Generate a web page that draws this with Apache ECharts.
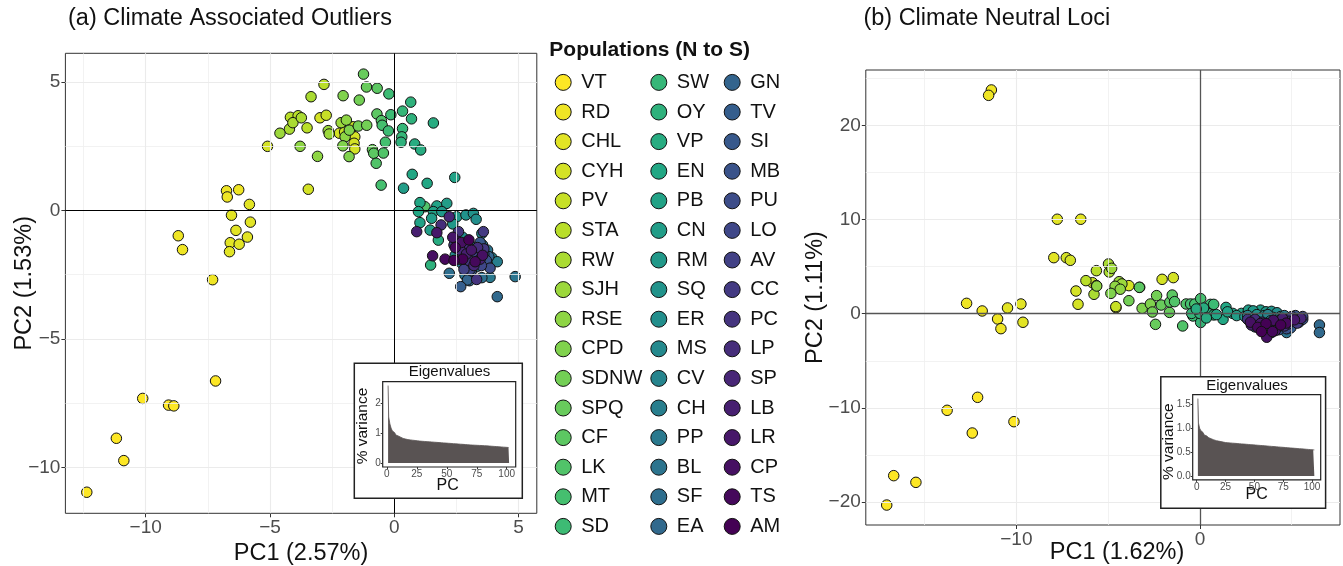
<!DOCTYPE html>
<html><head><meta charset="utf-8">
<script src="https://cdn.jsdelivr.net/npm/echarts@6/dist/echarts.min.js"></script>
<style>html,body{margin:0;padding:0;background:#fff}#c{width:1343px;height:566px}</style>
</head><body><div id="c"></div>
<script>
// ---------------- DATA ----------------
const populations = ["VT","RD","CHL","CYH","PV","STA","RW","SJH","RSE","CPD","SDNW","SPQ","CF","LK","MT","SD",
  "SW","OY","VP","EN","PB","CN","RM","SQ","ER","MS","CV","CH","PP","BL","SF","EA",
  "GN","TV","SI","MB","PU","LO","AV","CC","PC","LP","SP","LB","LR","CP","TS","AM"];

// (a) Climate Associated Outliers: [population, PC1, PC2]
const pointsA = [
 ["VT",-12.37,-10.97],["VT",-11.18,-8.87],["VT",-10.88,-9.74],["VT",-10.12,-7.32],["VT",-9.08,-7.58],["VT",-8.87,-7.61],["VT",-7.19,-6.64],
 ["RD",-7.31,-2.70],["RD",-8.69,-0.99],["RD",-8.52,-1.53],["RD",-6.75,0.76],["RD",-6.72,0.52],["RD",-6.26,0.80],
 ["CHL",-5.83,0.23],["CHL",-6.55,-0.19],["CHL",-5.79,-0.46],["CHL",-6.37,-0.78],["CHL",-6.60,-1.26],["CHL",-6.24,-1.32],["CHL",-5.91,-1.04],["CHL",-6.63,-1.61],
 ["CYH",-5.10,2.49],["CYH",-3.46,0.82],["CYH",-2.99,3.60],["CYH",-2.21,3.00],["CYH",-1.59,2.86],["CYH",-1.62,2.61],["CYH",-1.59,2.39],
 ["PV",-2.74,3.70],["PV",-1.66,3.25],["PV",-2.00,3.05],
 ["STA",-4.18,3.62],["STA",-3.51,3.21],["STA",-3.87,3.68],["STA",-2.83,4.90],
 ["RW",-4.22,3.16],["RW",-4.08,3.41],["RW",-3.74,3.60],["RW",-3.35,4.42],
 ["SJH",-4.60,3.00],["SJH",-2.66,3.10],["SJH",-2.62,2.97],["SJH",-2.14,3.41],
 ["RSE",-3.79,2.49],["RSE",-3.09,2.10],["RSE",-1.98,2.86],["RSE",-1.93,3.51],
 ["CPD",-2.06,4.46],["CPD",-1.81,3.12],["CPD",-2.07,2.51],["CPD",-1.82,2.09],
 ["SDNW",-1.45,3.28],["SDNW",-1.41,4.29],["SDNW",-1.11,3.31],
 ["SPQ",-1.24,5.30],["SPQ",-1.12,4.80],["SPQ",-0.88,2.36],
 ["CF",-0.69,4.75],["CF",-0.83,2.22],["CF",-0.70,3.75],
 ["LK",-0.52,3.49],["LK",-0.73,1.83],["LK",-0.44,2.23],["LK",1.23,0.14],
 ["MT",-0.36,2.65],["MT",-0.53,0.98],["MT",-0.49,3.31],
 ["SD",-0.22,4.53],["SD",-0.14,3.72],["SD",-0.24,3.09],
 ["SW",0.33,3.86],["SW",0.33,3.18],["SW",0.30,2.86],
 ["OY",0.66,4.21],["OY",0.69,3.56],["OY",0.27,2.65],["OY",1.46,-2.13],
 ["VP",1.57,3.40],["VP",0.82,2.58],["VP",1.06,2.35],["VP",1.77,-1.16],
 ["EN",0.72,1.40],["EN",1.32,1.05],["EN",1.03,0.30],["EN",0.97,-0.05],
 ["PB",2.43,1.28],["PB",1.71,0.17],["PB",1.57,-0.05],["PB",1.03,-0.48],
 ["CN",0.37,0.86],["CN",2.11,0.27],["CN",1.50,-0.31],["CN",1.44,-0.77],
 ["RM",1.91,-0.05],["RM",2.51,-0.25],["RM",2.35,-0.53],
 ["SQ",2.88,-0.18],["SQ",3.18,-0.12],["SQ",2.60,-1.30],
 ["ER",3.29,-0.35],["ER",2.75,-1.05],["ER",3.40,-1.60],
 ["MS",3.52,-0.90],["MS",3.10,-1.40],["MS",2.45,-1.75],
 ["CV",3.92,-1.84],["CV",2.95,-1.85],["CV",3.65,-2.10],
 ["CH",4.14,-2.00],["CH",3.30,-2.20],["CH",2.70,-2.05],
 ["PP",3.85,-2.61],["PP",3.05,-1.65],["PP",3.55,-1.35],
 ["BL",4.86,-2.58],["BL",2.84,-2.52],["BL",3.75,-1.55],
 ["SF",2.21,-2.45],["SF",3.52,-2.62],["SF",2.90,-2.15],
 ["EA",4.14,-3.36],["EA",3.02,-2.74],["EA",3.40,-1.95],
 ["GN",2.94,-2.71],["GN",3.20,-2.05],["GN",3.80,-1.80],
 ["TV",2.67,-2.97],["TV",3.60,-1.70],["TV",2.55,-1.50],
 ["SI",3.10,-2.35],["SI",3.45,-1.25],["SI",2.85,-1.60],
 ["MB",2.60,-1.90],["MB",3.70,-1.95],["MB",3.15,-1.75],
 ["PU",3.25,-1.55],["PU",2.95,-1.25],["PU",3.85,-2.25],
 ["LO",2.75,-1.75],["LO",3.50,-2.15],["LO",3.05,-2.30],
 ["AV",2.40,-1.35],["AV",3.30,-1.85],["AV",2.80,-2.30],
 ["CC",3.58,-0.83],["CC",2.50,-1.15],["CC",3.60,-1.50],
 ["PC",3.31,-2.69],["PC",2.58,-0.83],["PC",3.00,-1.95],
 ["LP",1.88,-0.57],["LP",2.85,-1.35],["LP",3.35,-1.45],
 ["SP",2.21,-0.25],["SP",2.65,-1.55],["SP",3.20,-2.15],
 ["LB",0.90,-0.83],["LB",2.90,-1.70],["LB",3.45,-1.90],
 ["LR",1.71,-0.87],["LR",2.35,-1.05],["LR",3.10,-1.55],
 ["CP",1.54,-1.77],["CP",2.70,-1.25],["CP",3.55,-1.75],
 ["TS",2.04,-1.90],["TS",2.45,-1.45],["TS",3.25,-2.00],
 ["AM",2.75,-1.90],["AM",3.00,-1.15],["AM",2.40,-1.95]
];

// (b) Climate Neutral Loci: [population, PC1, PC2]
const pointsB = [
 ["VT",-17.06,-20.32],["VT",-16.68,-17.20],["VT",-15.47,-17.91],["VT",-13.77,-10.26],["VT",-12.11,-8.88],["VT",-12.40,-12.67],["VT",-10.13,-11.47],
 ["RD",-11.36,23.76],["RD",-11.51,23.19],["RD",-12.71,1.10],["RD",-11.86,0.29],["RD",-11.02,-0.56],["RD",-10.84,-1.59],
 ["CHL",-7.77,10.03],["CHL",-6.49,10.03],["CHL",-10.48,0.61],["CHL",-9.75,1.03],["CHL",-9.64,-0.91],["CHL",-7.96,5.95],
 ["CYH",-7.28,5.95],["CYH",-7.06,5.67],["CYH",-6.75,2.41],["CYH",-6.64,1.00],["CYH",-4.57,0.64],["CYH",-3.87,2.98],["CYH",-2.06,3.65],["CYH",-1.45,3.83],
 ["PV",-4.58,0.75],["PV",-3.28,2.80],["PV",-5.85,3.29],
 ["STA",-5.64,4.57],["STA",-6.21,3.51],["STA",-5.64,2.98],
 ["RW",-4.98,5.28],["RW",-4.94,4.43],["RW",-5.77,2.06],
 ["SJH",-4.81,4.82],["SJH",-4.40,3.40],["SJH",-4.25,3.16],
 ["RSE",-5.62,2.94],["RSE",-4.62,2.91],["RSE",-4.34,2.60],
 ["CPD",-4.85,2.16],["CPD",-3.15,0.57],["CPD",-2.70,1.03],
 ["SDNW",-3.87,1.38],["SDNW",-2.59,0.18],["SDNW",-2.36,1.92],
 ["SPQ",-2.42,-1.13],["SPQ",-2.11,0.92],["SPQ",-1.66,0.14],
 ["CF",-1.64,1.24],["CF",-1.51,1.98],["CF",-3.30,2.80],
 ["LK",-1.38,1.28],["LK",-0.94,-1.30],["LK",-0.75,1.03],
 ["MT",-0.51,1.03],["MT",-0.28,1.03],["MT",0.04,1.60],
 ["SD",0.57,0.99],["SD",0.75,0.99],["SD",-0.38,-0.24],
 ["SW",0.09,-0.24],["SW",0.04,-0.93],["SW",-0.45,0.03],
 ["OY",0.00,0.03],["OY",0.45,0.03],["OY",0.75,-0.13],
 ["VP",0.20,0.60],["VP",-0.20,0.50],["VP",0.35,-0.45],
 ["EN",1.42,0.67],["EN",1.26,-0.60],["EN",0.90,-0.10],
 ["PB",1.79,0.03],["PB",2.26,0.03],["PB",1.50,0.20],
 ["CN",2.64,0.38],["CN",3.30,0.38],["CN",2.00,-0.20],
 ["RM",2.90,0.30],["RM",2.45,-0.30],["RM",3.60,0.20],
 ["SQ",3.90,0.25],["SQ",3.10,-0.10],["SQ",2.70,-0.45],
 ["ER",4.20,0.10],["ER",3.50,-0.20],["ER",2.90,-0.70],
 ["MS",3.30,-0.50],["MS",4.00,-0.40],["MS",2.60,-0.20],
 ["CV",3.70,-0.10],["CV",4.40,-0.30],["CV",3.20,-0.90],
 ["CH",4.60,-0.20],["CH",3.85,-0.75],["CH",2.80,-1.00],
 ["PP",4.90,-0.50],["PP",4.30,-1.00],["PP",3.40,-1.30],
 ["BL",5.10,-0.40],["BL",4.72,-2.00],["BL",3.95,-1.55],
 ["SF",5.30,-0.70],["SF",4.50,-1.40],["SF",3.00,-1.40],
 ["EA",6.51,-1.20],["EA",6.51,-2.00],["EA",5.00,-1.20],
 ["GN",3.90,-1.60],["GN",4.60,-0.80],["GN",5.40,-0.90],
 ["TV",3.60,-1.80],["TV",4.10,-1.30],["TV",4.95,-1.50],
 ["SI",4.30,-1.70],["SI",3.30,-1.60],["SI",5.20,-0.20],
 ["MB",4.72,-1.60],["MB",3.90,-2.00],["MB",5.60,-0.60],
 ["PU",4.00,-1.10],["PU",3.05,-1.10],["PU",5.60,-0.30],
 ["LO",4.80,-1.10],["LO",3.60,-1.40],["LO",2.90,-0.90],
 ["AV",4.40,-0.60],["AV",3.75,-1.20],["AV",5.00,-0.30],
 ["CC",3.20,-1.25],["CC",4.20,-1.50],["CC",5.30,-1.00],
 ["PC",2.60,-0.60],["PC",3.50,-1.60],["PC",4.60,-1.30],
 ["LP",3.00,-0.60],["LP",3.90,-1.30],["LP",4.85,-0.80],
 ["SP",3.40,-0.90],["SP",4.30,-0.90],["SP",5.50,-0.50],
 ["LB",3.70,-1.70],["LB",2.80,-1.20],["LB",4.50,-0.50],
 ["LR",3.30,-1.05],["LR",4.10,-1.80],["LR",5.15,-0.65],
 ["CP",3.64,-2.50],["CP",2.75,-0.90],["CP",4.00,-0.70],
 ["TS",3.95,-1.90],["TS",3.15,-1.45],["TS",4.70,-1.00],
 ["AM",3.60,-1.05],["AM",4.40,-1.20],["AM",3.35,-1.90]
];

// eigenvalues (% variance per PC)
const eigA = [2.57,1.53,1.30,1.16,1.07,1.01,0.97,0.93,0.90,0.88,
 0.86,0.84,0.82,0.81,0.80,0.79,0.78,0.775,0.77,0.765,
 0.76,0.755,0.75,0.745,0.74,0.735,0.73,0.727,0.724,0.721,
 0.718,0.715,0.712,0.709,0.706,0.703,0.70,0.697,0.694,0.691,
 0.688,0.685,0.682,0.679,0.676,0.673,0.67,0.667,0.664,0.661,
 0.658,0.655,0.652,0.649,0.646,0.643,0.64,0.637,0.634,0.631,
 0.628,0.625,0.622,0.619,0.616,0.613,0.61,0.607,0.604,0.601,
 0.598,0.596,0.594,0.592,0.59,0.588,0.586,0.584,0.582,0.58,
 0.578,0.575,0.572,0.569,0.566,0.563,0.56,0.557,0.554,0.551,
 0.548,0.545,0.542,0.539,0.536,0.533,0.53,0.527,0.524,0.521,
 0.518,0.515];
const eigB = [1.62,1.11,1.00,0.95,0.91,0.88,0.86,0.84,0.82,0.80,
 0.79,0.78,0.77,0.76,0.75,0.745,0.74,0.735,0.73,0.725,
 0.72,0.715,0.71,0.705,0.70,0.698,0.696,0.694,0.692,0.69,
 0.688,0.686,0.684,0.682,0.68,0.678,0.676,0.674,0.672,0.67,
 0.668,0.666,0.664,0.662,0.66,0.658,0.656,0.654,0.652,0.65,
 0.648,0.646,0.644,0.642,0.64,0.638,0.636,0.634,0.632,0.63,
 0.628,0.626,0.624,0.622,0.62,0.618,0.616,0.614,0.612,0.61,
 0.608,0.606,0.604,0.602,0.60,0.598,0.596,0.594,0.592,0.59,
 0.588,0.586,0.584,0.582,0.58,0.578,0.576,0.574,0.572,0.57,
 0.568,0.566,0.564,0.562,0.56,0.558,0.556,0.554,0.552,0.55,
 0.548,0.546];

// tick labels
const ticksAx = [-10,-5,0,5], ticksAy = [-10,-5,0,5];
const ticksBx = [-10,0], ticksBy = [-20,-10,0,10,20];
const ticksEigX = [0,25,50,75,100];
const ticksEigAy = [0,1,2], ticksEigBy = [0,0.5,1,1.5];

// ---------------- STYLE ----------------
const FONT = '"Liberation Sans", Arial, Helvetica, sans-serif';
const BARCOL = '#595353';
const viridisStops = ['#440154','#482475','#414487','#355f8d','#2a788e','#21918c','#22a884','#44bf70','#7ad151','#bddf26','#fde725'];
function hex2rgb(h){return [parseInt(h.substr(1,2),16),parseInt(h.substr(3,2),16),parseInt(h.substr(5,2),16)];}
function viridis(t){
  const s = t*(viridisStops.length-1); const i = Math.min(Math.floor(s), viridisStops.length-2); const f = s-i;
  const a = hex2rgb(viridisStops[i]), b = hex2rgb(viridisStops[i+1]);
  return 'rgb('+a.map((v,k)=>Math.round(v+(b[k]-v)*f)).join(',')+')';
}
const colors = populations.map((p,i)=>viridis(1 - i/(populations.length-1)));
const minus = v => (v<0 ? '\u2212'+String(Math.abs(v)) : String(v));

function mainAxis(gi, min, max, ticks){
  return {type:'value', gridIndex:gi, min:min, max:max,
    splitLine:{show:false}, axisLine:{show:false,onZero:false},
    axisTick:{show:true, customValues:ticks, length:4, lineStyle:{color:'#333',width:1}},
    axisLabel:{customValues:ticks, formatter:minus, fontSize:19, color:'#4d4d4d', fontFamily:FONT, margin:5}};
}
function insetAxis(gi, min, max, ticks, fmt){
  return {type:'value', gridIndex:gi, min:min, max:max, z:12,
    splitLine:{show:false}, axisLine:{show:false,onZero:false},
    axisTick:{show:true, customValues:ticks, length:2, lineStyle:{color:'#333',width:1}},
    axisLabel:{customValues:ticks, formatter:fmt, fontSize:10, color:'#4d4d4d', fontFamily:FONT, margin:2}};
}
function gridLines(ai, vMaj, vMin, hMaj, hMin, zeroColor, zeroW){
  const d = [];
  vMin.forEach(v=>d.push({xAxis:v, lineStyle:{color:'#efefef', width:0.8}}));
  hMin.forEach(v=>d.push({yAxis:v, lineStyle:{color:'#efefef', width:0.8}}));
  vMaj.forEach(v=>d.push({xAxis:v, lineStyle:{color:'#ebebeb', width:1.1}}));
  hMaj.forEach(v=>d.push({yAxis:v, lineStyle:{color:'#ebebeb', width:1.1}}));
  d.push({xAxis:0, lineStyle:{color:zeroColor, width:zeroW}});
  d.push({yAxis:0, lineStyle:{color:zeroColor, width:zeroW}});
  return {type:'scatter', xAxisIndex:ai, yAxisIndex:ai, z:1, silent:true, symbolSize:0,
    data:[[0,0]], itemStyle:{opacity:0},
    markLine:{silent:true, symbol:['none','none'], label:{show:false}, animation:false,
      lineStyle:{type:'solid'}, emphasis:{disabled:true}, data:d}};
}
function scatterSeries(points, ai){
  return populations.map((p,i)=>({type:'scatter', name:p, xAxisIndex:ai, yAxisIndex:ai, z:3,
    symbol:'circle', symbolSize:10.5, silent:true,
    itemStyle:{color:colors[i], borderColor:'#111', borderWidth:1, opacity:1},
    data: points.filter(r=>r[0]===p).map(r=>[r[1],r[2]])}));
}
function eigSeries(eig, ai){
  // histogram-like bars: stepped area centred on each PC number
  return {type:'line', xAxisIndex:ai, yAxisIndex:ai, z:11, silent:true, step:'middle',
    showSymbol:false, symbol:'none', lineStyle:{color:BARCOL, width:0.8},
    areaStyle:{color:BARCOL, opacity:1, origin:0},
    data: eig.map((v,i)=>[i+1, v])};
}
function txt(x,y,text,size,opt){
  opt = opt||{};
  return {type:'text', x:x, y:y, z:12, rotation:opt.rot||0,
    style:{text:text, fontSize:size, fontFamily:FONT, fontWeight:opt.bold?'bold':'normal', fill:opt.color||'#111',
      textAlign:opt.align||'center', textVerticalAlign:'middle', align:opt.align||'center', verticalAlign:'middle'}};
}

const legendCols = [populations.slice(0,16), populations.slice(16,32), populations.slice(32,48)];
const legendCx = [562.7, 658.3, 731.7];

const option = {
  animation:false,
  backgroundColor:'#fff',
  grid:[
    {left:65.4, top:53.3, width:471.4, height:460, show:true, borderColor:'#333', borderWidth:1, backgroundColor:'transparent', containLabel:false},
    {left:865.8, top:70, width:474.2, height:455, show:true, borderColor:'#333', borderWidth:1, backgroundColor:'transparent', containLabel:false},
    {left:382.7, top:381.7, width:133, height:85.3, show:true, borderColor:'#222', borderWidth:1.2, backgroundColor:'transparent', z:11, containLabel:false},
    {left:1192.7, top:394.7, width:128, height:85.2, show:true, borderColor:'#222', borderWidth:1.2, backgroundColor:'transparent', z:11, containLabel:false}
  ],
  xAxis:[
    mainAxis(0,-13.23,5.73,ticksAx),
    mainAxis(1,-18.2,7.63,ticksBx),
    insetAxis(2,-3.5,107.5,ticksEigX,v=>String(v)),
    insetAxis(3,-3.5,107.5,ticksEigX,v=>String(v))
  ],
  yAxis:[
    mainAxis(0,-11.79,6.11,ticksAy),
    mainAxis(1,-22.44,25.88,ticksBy),
    insetAxis(2,-0.1285,2.6985,ticksEigAy,v=>String(v)),
    insetAxis(3,-0.081,1.701,ticksEigBy,v=>v.toFixed(1))
  ],
  legend: legendCols.map((col,k)=>({data:col, orient:'vertical', left:legendCx[k]-8, top:72.4,
    itemWidth:16, itemHeight:16, itemGap:9.6, padding:0, selectedMode:false, icon:'circle',
    textStyle:{fontSize:20, color:'#111', fontFamily:FONT, padding:[0,0,0,5]},
    itemStyle:{borderColor:'#111', borderWidth:1}})),
  series: [
    gridLines(0,[-10,-5,5],[-12.5,-7.5,-2.5,2.5],[-10,-5,5],[-7.5,-2.5,2.5],'#000',1),
    gridLines(1,[-10],[-15,-5,5],[-20,-10,10,20],[-15,-5,5,15,25],'#555',1.3)
  ].concat(scatterSeries(pointsA,0)).concat(scatterSeries(pointsB,1)).concat([
    eigSeries(eigA,2), eigSeries(eigB,3)
  ]),
  graphic:[
    {type:'rect', z:10, shape:{x:354.3,y:363.3,width:168,height:135}, style:{fill:'#fff', stroke:'#222', lineWidth:1.5}},
    {type:'rect', z:10, shape:{x:1160.8,y:376.7,width:164.8,height:131.6}, style:{fill:'#fff', stroke:'#222', lineWidth:1.5}},
    txt(68,19,'(a) Climate Associated Outliers',23.5,{align:'left'}),
    txt(863.4,19,'(b) Climate Neutral Loci',23.5,{align:'left'}),
    txt(301,554,'PC1 (2.57%)',23.5),
    txt(25,283.3,'PC2 (1.53%)',23.5,{rot:Math.PI/2}),
    txt(1117,553,'PC1 (1.62%)',23.5),
    txt(815.6,297.5,'PC2 (1.11%)',23.5,{rot:Math.PI/2}),
    txt(549.3,50,'Populations (N to S)',21,{align:'left',bold:true}),
    txt(449.5,371.7,'Eigenvalues',15),
    txt(362.7,426,'% variance',15.5,{rot:Math.PI/2}),
    txt(447.7,485.7,'PC',16),
    txt(1247,385.5,'Eigenvalues',15),
    txt(1168.3,441.7,'% variance',15.5,{rot:Math.PI/2}),
    txt(1256.7,495,'PC',16)
  ]
};
const chart = echarts.init(document.getElementById('c'), null, {renderer:'canvas'});
chart.setOption(option);
</script></body></html>
